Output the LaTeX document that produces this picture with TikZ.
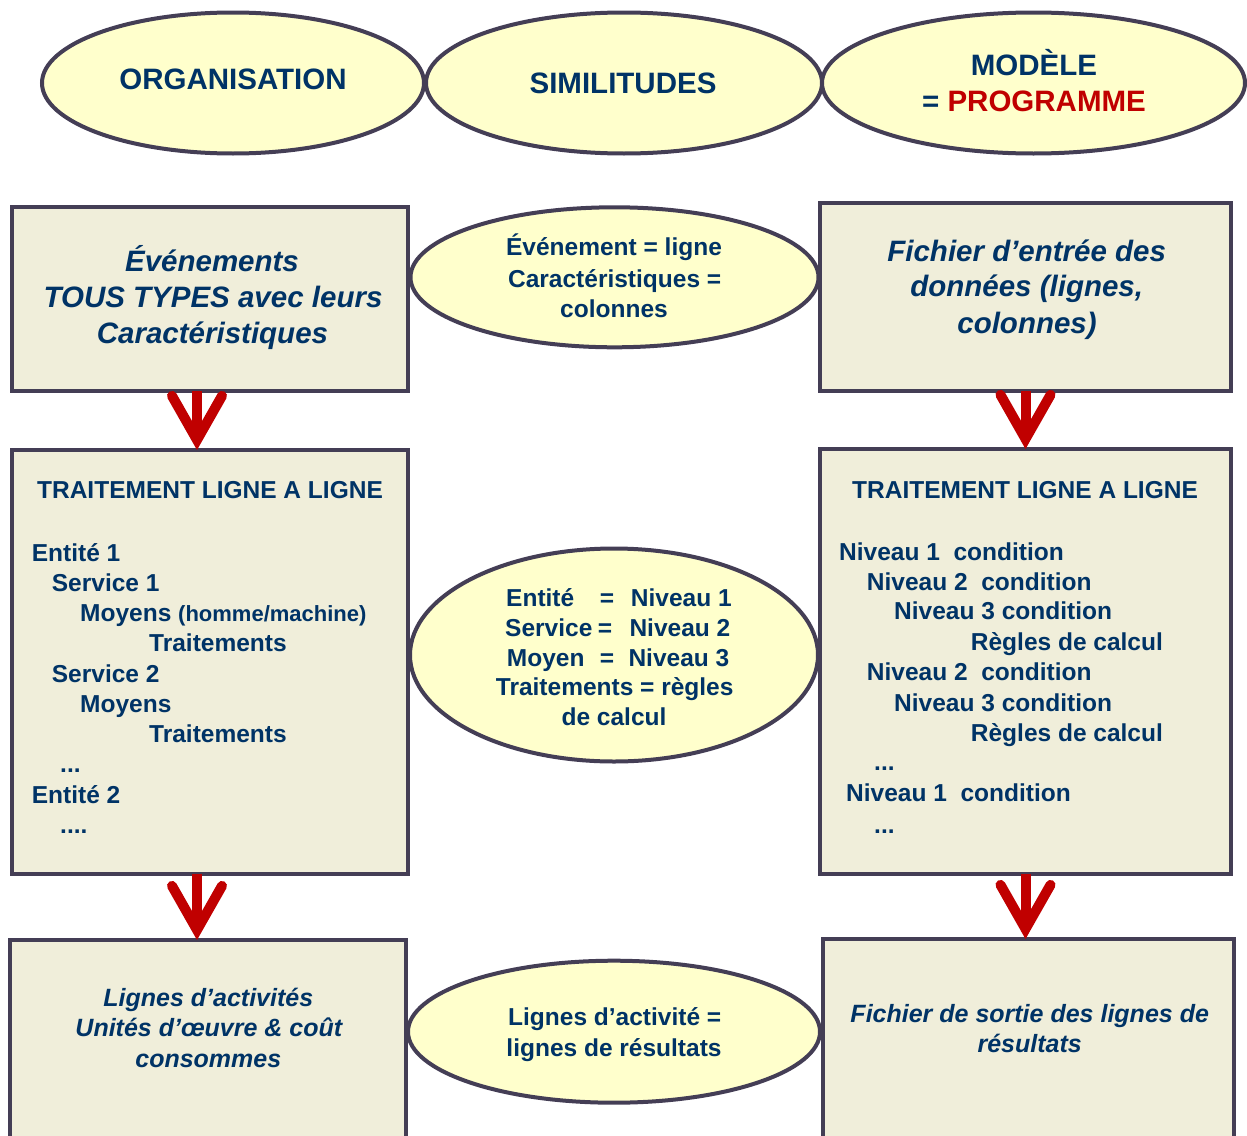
\documentclass[tikz,border=0pt]{standalone}
\usepackage{fontspec}
\setmainfont{Liberation Sans}
\usetikzlibrary{shapes.geometric,arrows.meta}
\definecolor{inkblue}{HTML}{003366}
\definecolor{inkred}{HTML}{C00000}
\definecolor{ovalfill}{HTML}{FFFFCC}
\definecolor{panelfill}{HTML}{F0EEDA}
\definecolor{edge}{HTML}{443E55}
\tikzset{
  oval/.style={ellipse, draw=edge, fill=ovalfill, line width=4pt, inner sep=0pt, outer sep=0pt},
  panel/.style={rectangle, draw=edge, fill=panelfill, line width=4pt, inner sep=0pt, outer sep=0pt},
  txt/.style={text=inkblue, font=\bfseries\fontsize{24.5}{30}\selectfont, inner sep=0pt},
  head/.style={text=inkblue, font=\bfseries\fontsize{29.5}{36}\selectfont, inner sep=0pt},
  slant/.style={text=inkblue, font=\bfseries\itshape\fontsize{29.5}{36}\selectfont, inner sep=0pt},
  slantsm/.style={text=inkblue, font=\bfseries\itshape\fontsize{25}{30}\selectfont, inner sep=0pt},
  flow/.style={draw=inkred, line width=10pt, -{Straight Barb[length=44pt,width=50pt,line cap=round]},
    postaction={draw=inkred, line width=10pt, arrows=-, shorten >=12pt}},
}
\begin{document}
\begin{tikzpicture}[x=1pt,y=-1pt]
	\useasboundingbox[fill=white] (0,0) rectangle (1247,1135);
	\clip (0,0) rectangle (1247,1135);

	% top row
	\node[oval, minimum width=382pt, minimum height=141pt] (org) at (233,83) {};
	\node[oval, minimum width=396pt, minimum height=141pt] (sim) at (624,83) {};
	\node[oval, minimum width=423pt, minimum height=141pt] (mod) at (1033.5,83) {};
	\node[head, anchor=base] (orgt) at (233,89) {ORGANISATION};
	\node[head, anchor=base] (simt) at (623,93.5) {SIMILITUDES};
	\node[head, anchor=base] (modt) at (1034,75) {MODÈLE};
	\node[head, anchor=base] (modp) at (1034,111.7) {= \textcolor{inkred}{PROGRAMME}};

	% boxes
	\node[panel, minimum width=396pt, minimum height=184pt] (evt) at (210,299) {};
	\node[panel, minimum width=411pt, minimum height=188pt] (fic) at (1025.5,297) {};
	\node[panel, minimum width=396pt, minimum height=424pt] (trtL) at (210,662) {};
	\node[panel, minimum width=411pt, minimum height=425pt] (trtR) at (1025.5,661.5) {};
	\node[panel, minimum width=396pt, minimum height=220pt] (act) at (208,1050) {};
	\node[panel, minimum width=411pt, minimum height=221pt] (sortie) at (1028.5,1049.5) {};

	% arrows
	\draw[flow] ([xshift=-13pt]evt.south) -- ([xshift=-13pt]trtL.north);
	\draw[flow] (fic.south) -- (fic.south |- trtR.north);
	\draw[flow] ([xshift=-13pt]trtL.south) -- ([xshift=-13pt]trtL.south |- act.north);
	\draw[flow] (trtR.south) -- (trtR.south |- sortie.north);

	% similitudes
	\node[oval, minimum width=408pt, minimum height=140pt] (sim1) at (614.5,277.3) {};
	\node[oval, minimum width=408pt, minimum height=213pt] (sim2) at (614,655) {};
	\node[oval, minimum width=412pt, minimum height=142pt] (sim3) at (614,1031.7) {};

	% texts of the first row
	\node[slant, anchor=base] (evt1) at (212,271.7) {Événements};
	\node[slant, anchor=base] (evt2) at (213,307.3) {TOUS TYPES avec leurs};
	\node[slant, anchor=base] (evt3) at (212.5,343.3) {Caractéristiques};
	\node[txt, anchor=base] (sim1a) at (614,255) {Événement = ligne};
	\node[txt, anchor=base] (sim1b) at (614.7,287.3) {Caractéristiques =};
	\node[txt, anchor=base] (sim1c) at (614,317.3) {colonnes};
	\node[slant, anchor=base] (fic1) at (1026.7,261.7) {Fichier d’entrée des};
	\node[slant, anchor=base] (fic2) at (1026.7,296.7) {données (lignes,};
	\node[slant, anchor=base] (fic3) at (1027,333.3) {colonnes)};

	% left list
	\node[txt, anchor=base] (trtLt) at (210,498.3) {TRAITEMENT LIGNE A LIGNE};
	\node[txt, anchor=base west] (l1) at (31.7,561) {Entité 1};
	\node[txt, anchor=base west] (l2) at (51.7,591.7) {Service 1};
	\node[txt, anchor=base west] (l3) at (80,621.7) {Moyens {\fontsize{22}{24}\selectfont (homme/machine)}};
	\node[txt, anchor=base west] (l4) at (149,651.7) {Traitements};
	\node[txt, anchor=base west] (l5) at (51.7,682) {Service 2};
	\node[txt, anchor=base west] (l6) at (80,712.7) {Moyens};
	\node[txt, anchor=base west] (l7) at (149,742.7) {Traitements};
	\node[txt, anchor=base west] (l8) at (60,772.7) {...};
	\node[txt, anchor=base west] (l9) at (31.7,803.3) {Entité 2};
	\node[txt, anchor=base west] (l10) at (60,833.3) {....};

	% middle
	\node[txt, anchor=base west] (s1a) at (506,606) {Entité};
	\node[txt, anchor=base] (s1b) at (607,606) {=};
	\node[txt, anchor=base west] (s1c) at (630.7,606) {Niveau 1};
	\node[txt, anchor=base west] (s2a) at (505,636) {Service};
	\node[txt, anchor=base] (s2b) at (605,636) {=};
	\node[txt, anchor=base west] (s2c) at (629.3,636) {Niveau 2};
	\node[txt, anchor=base west] (s3a) at (506.7,666) {Moyen};
	\node[txt, anchor=base] (s3b) at (607,666) {=};
	\node[txt, anchor=base west] (s3c) at (628.3,666) {Niveau 3};
	\node[txt, anchor=base] (s4) at (614.7,695.7) {Traitements = règles};
	\node[txt, anchor=base] (s5) at (614,725) {de calcul};

	% right list
	\node[txt, anchor=base] (trtRt) at (1025,498.3) {TRAITEMENT LIGNE A LIGNE};
	\node[txt, anchor=base west] (r1) at (839,560) {Niveau 1\ \ condition};
	\node[txt, anchor=base west] (r2) at (866.7,590) {Niveau 2\ \ condition};
	\node[txt, anchor=base west] (r3) at (894,619.3) {Niveau 3 condition};
	\node[txt, anchor=base west] (r4) at (970.7,650) {Règles de calcul};
	\node[txt, anchor=base west] (r5) at (866.7,680.7) {Niveau 2\ \ condition};
	\node[txt, anchor=base west] (r6) at (894,711) {Niveau 3 condition};
	\node[txt, anchor=base west] (r7) at (970.7,741.7) {Règles de calcul};
	\node[txt, anchor=base west] (r8) at (874,770.7) {...};
	\node[txt, anchor=base west] (r9) at (846,801.7) {Niveau 1\ \ condition};
	\node[txt, anchor=base west] (r10) at (874,833.3) {...};

	% last row
	\node[slantsm, anchor=base] (act1) at (208.3,1006.7) {Lignes d’activités};
	\node[slantsm, anchor=base] (act2) at (208.8,1036.7) {Unités d’œuvre \& coût};
	\node[slantsm, anchor=base] (act3) at (208.3,1067.3) {consommes};
	\node[txt, anchor=base] (sim3a) at (614.7,1025) {Lignes d’activité =};
	\node[txt, anchor=base] (sim3b) at (614,1056.7) {lignes de résultats};
	\node[slantsm, anchor=base] (sor1) at (1029.7,1022.7) {Fichier de sortie des lignes de};
	\node[slantsm, anchor=base] (sor2) at (1029.7,1052.7) {résultats};
\end{tikzpicture}
\end{document}
